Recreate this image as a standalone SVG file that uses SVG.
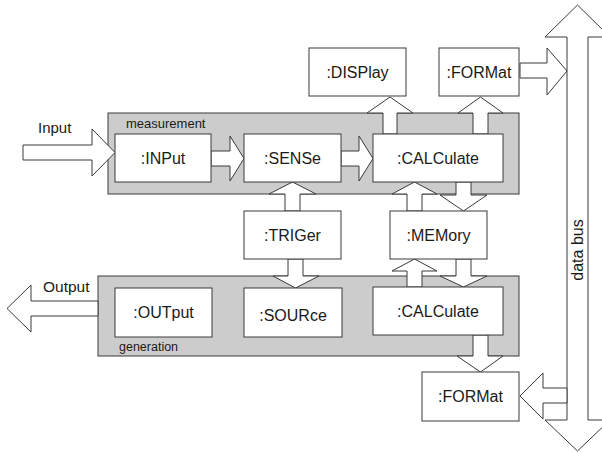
<svg xmlns="http://www.w3.org/2000/svg" width="602" height="453" viewBox="0 0 602 453">
<style>
.grp{fill:#cccccc;stroke:#3a3a3a;stroke-width:1}
.box{fill:#ffffff;stroke:#3a3a3a;stroke-width:1}
.arr{fill:#ffffff;stroke:#3a3a3a;stroke-width:1;stroke-linejoin:miter}
.lbl{font-family:"Liberation Sans",Arial,sans-serif;font-size:16px;fill:#1a1a1a;text-anchor:middle}
.cap{font-family:"Liberation Sans",Arial,sans-serif;fill:#1a1a1a}
</style>
<rect width="602" height="453" fill="#ffffff"/>
<g id="measurement">
<rect class="grp" x="108" y="113" width="411" height="81"/>
<text class="cap" x="126" y="128" font-size="13">measurement</text>
</g>
<g id="generation">
<rect class="grp" x="98" y="276" width="421" height="80"/>
<text class="cap" x="119" y="351" font-size="12.5">generation</text>
</g>
<g id="connectors">
<polygon class="arr" points="23,145 92,145 92,129 115,152.5 92,176 92,160 23,160"/>
<polygon class="arr" points="211,151 230,151 230,136 244,158.5 230,181 230,166 211,166"/>
<polygon class="arr" points="341,151 359,151 359,136 373,158.5 359,181 359,166 341,166"/>
<polygon class="arr" points="383,134 383,113 367,113 390,97 413,113 397,113 397,134"/>
<polygon class="arr" points="473,134 473,113 458,113 480.5,97 503,113 488,113 488,134"/>
<polygon class="arr" points="520,63 547,63 547,48 567,71 547,95 547,78 520,78"/>
<polygon class="arr" points="567,37 545,37 577.5,5 610,37 588,37 588,420 610,420 577.5,451 545,420 567,420"/>
<polygon class="arr" points="567,388 543,388 543,373 520,396 543,419 543,403 567,403"/>
<polygon class="arr" points="285,211 285,194 269,194 292.5,182 316,194 300,194 300,211"/>
<polygon class="arr" points="288,259 288,276 273,276 295.5,288 319,276 303,276 303,259"/>
<polygon class="arr" points="407,211 407,194 392,194 414.5,182 437,194 422,194 422,211"/>
<polygon class="arr" points="456,182 456,195 440,195 463.5,211 487,195 471,195 471,182"/>
<polygon class="arr" points="407,287 407,271 392,271 414.5,259 437,271 422,271 422,287"/>
<polygon class="arr" points="456,259 456,276 440,276 463.5,287 487,276 471,276 471,259"/>
<polygon class="arr" points="473,335 473,356 457,356 480.5,372 503,356 488,356 488,335"/>
<polygon class="arr" points="98,301 31,301 31,285 7,308.5 31,332 31,316 98,316"/>
<text class="cap" x="38" y="133" font-size="15">Input</text>
<text class="cap" x="43" y="292" font-size="15.5">Output</text>
<text class="cap" font-size="16" transform="translate(583,250) rotate(-90)" text-anchor="middle">data bus</text>
</g>
<g id="input"><rect class="box" x="115" y="134" width="96" height="48"/><text class="lbl" x="163" y="164">:INPut</text></g>
<g id="sense"><rect class="box" x="244" y="134" width="97" height="48"/><text class="lbl" x="292.5" y="164">:SENSe</text></g>
<g id="calc-meas"><rect class="box" x="373" y="134" width="130" height="48"/><text class="lbl" x="438" y="164">:CALCulate</text></g>
<g id="display"><rect class="box" x="309" y="48" width="97" height="48"/><text class="lbl" x="357.5" y="78">:DISPlay</text></g>
<g id="format-top"><rect class="box" x="439" y="48" width="80" height="48"/><text class="lbl" x="479" y="78">:FORMat</text></g>
<g id="trigger"><rect class="box" x="244" y="211" width="97" height="48"/><text class="lbl" x="292.5" y="241">:TRIGer</text></g>
<g id="memory"><rect class="box" x="390" y="211" width="97" height="48"/><text class="lbl" x="438.5" y="241">:MEMory</text></g>
<g id="output"><rect class="box" x="115" y="288" width="97" height="49"/><text class="lbl" x="163.5" y="318">:OUTput</text></g>
<g id="source"><rect class="box" x="244" y="288" width="98" height="49"/><text class="lbl" x="293" y="321">:SOURce</text></g>
<g id="calc-gen"><rect class="box" x="373" y="287" width="130" height="48"/><text class="lbl" x="438" y="317">:CALCulate</text></g>
<g id="format-bottom"><rect class="box" x="422" y="372" width="97" height="49"/><text class="lbl" x="470.5" y="402">:FORMat</text></g>
</svg>
